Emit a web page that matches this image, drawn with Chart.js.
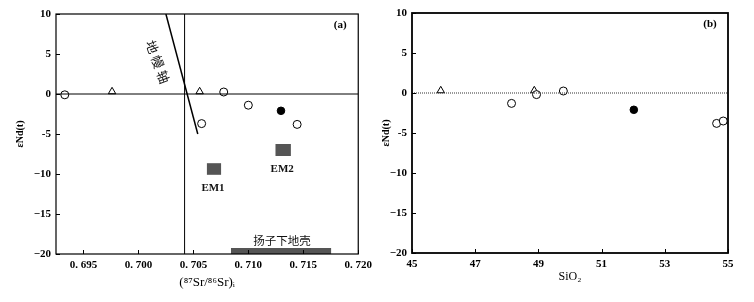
<!DOCTYPE html>
<html>
<head>
<meta charset="utf-8">
<script src="https://cdn.jsdelivr.net/npm/chart.js@4.4.1/dist/chart.umd.min.js"></script>
<style>
  body { margin: 0; background: #fff; width: 754px; height: 302px; position: relative; overflow: hidden; }
  .panel { position: absolute; top: 0; width: 377px; height: 302px; }
</style>
</head>
<body>
<div class="panel" style="left:0"><canvas id="chartA" width="377" height="302"></canvas></div>
<div class="panel" style="left:377px"><canvas id="chartB" width="377" height="302"></canvas></div>
<script>
// --- axis ticks ---
const ndTicks = [-20, -15, -10, -5, 0, 5, 10];
const ndTickLabels = ['−20', '−15', '−10', '-5', '0', '5', '10'];
const srTicks = [0.695, 0.700, 0.705, 0.710, 0.715, 0.720];
const srTickLabels = ['0. 695', '0. 700', '0. 705', '0. 710', '0. 715', '0. 720'];
const siTicks = [45, 47, 49, 51, 53, 55];

// --- panel (a): (87Sr/86Sr)i vs eNd(t) ---
const srOpen = [0.6933, 0.70776, 0.7100, 0.71444, 0.70575];
const ndOpenA = [-0.1, 0.25, -1.4, -3.8, -3.7];
const srTri = [0.6976, 0.70557];
const ndTriA = [0.3, 0.3];
const srFilled = [0.71297];
const ndFilledA = [-2.1];

const mantleSr = [0.7025, 0.7054];
const mantleNd = [10, -5];
const bulkSr = 0.7042;

const boxNames = ['EM1', 'EM2', '扬子下地壳'];
const boxSrMin = [0.70623, 0.71247, 0.70842];
const boxSrMax = [0.70752, 0.71387, 0.71753];
const boxNdMin = [-10.1, -7.75, -20];
const boxNdMax = [-8.65, -6.25, -19.25];

// --- panel (b): SiO2 vs eNd(t) ---
const siOpen = [48.15, 48.94, 49.79, 54.64, 54.85];
const ndOpenB = [-1.3, -0.2, 0.25, -3.8, -3.5];
const siTri = [45.91, 48.87];
const ndTriB = [0.3, 0.3];
const siFilled = [52.02];
const ndFilledB = [-2.1];

const serif = 'Liberation Serif, Times New Roman, serif';
const pts = (xs, ys) => xs.map((v, i) => ({ x: v, y: ys[i] }));

// frame round the plot plus short inward ticks
const frameTicks = {
  id: 'frameTicks',
  afterDraw(chart, args, opts) {
    const { ctx, chartArea: a, scales: { x, y } } = chart;
    ctx.save();
    ctx.strokeStyle = '#000';
    ctx.lineWidth = opts.lineWidth || 1.2;
    ctx.strokeRect(a.left, a.top, a.right - a.left, a.bottom - a.top);
    ctx.lineWidth = 1;
    ctx.beginPath();
    x.ticks.forEach(t => {
      const px = Math.round(x.getPixelForValue(t.value)) + 0.5;
      ctx.moveTo(px, a.bottom); ctx.lineTo(px, a.bottom - 4);
    });
    y.ticks.forEach(t => {
      const py = Math.round(y.getPixelForValue(t.value)) + 0.5;
      ctx.moveTo(a.left, py); ctx.lineTo(a.left + 4, py);
    });
    ctx.stroke();
    if (opts.tag) {
      ctx.fillStyle = '#000';
      ctx.font = 'bold 11px ' + serif;
      ctx.textAlign = 'center';
      ctx.textBaseline = 'middle';
      ctx.fillText(opts.tag, a.right - 18, a.top + 11);
    }
    ctx.restore();
  }
};

// grey source boxes and their names, plus the mantle array label
const sourceBoxes = {
  id: 'sourceBoxes',
  beforeDatasetsDraw(chart) {
    const { ctx, scales: { x, y } } = chart;
    ctx.save();
    ctx.fillStyle = '#555';
    boxNames.forEach((n, i) => {
      const x0 = x.getPixelForValue(boxSrMin[i]), x1 = x.getPixelForValue(boxSrMax[i]);
      const y0 = y.getPixelForValue(boxNdMax[i]), y1 = y.getPixelForValue(boxNdMin[i]);
      ctx.fillRect(x0, y0, x1 - x0, y1 - y0);
    });
    ctx.restore();
  },
  afterDraw(chart) {
    const { ctx, scales: { x, y } } = chart;
    ctx.save();
    ctx.fillStyle = '#111';
    ctx.textAlign = 'center';
    ctx.textBaseline = 'middle';
    boxNames.forEach((n, i) => {
      const cx = (x.getPixelForValue(boxSrMin[i]) + x.getPixelForValue(boxSrMax[i])) / 2;
      if (i < 2) {
        ctx.font = 'bold 11px ' + serif;
        ctx.fillText(n, cx - 1, y.getPixelForValue(boxNdMin[i]) + 13.5);
      } else {
        ctx.font = '11.5px "Noto Sans CJK SC", sans-serif';
        ctx.fillText(n, cx + 1, y.getPixelForValue(boxNdMax[i]) - 7);
      }
    });
    // 地幔轴 along the mantle array
    const t = 0.4;
    const lx = x.getPixelForValue(mantleSr[0] + t * (mantleSr[1] - mantleSr[0])) - 21;
    const ly = y.getPixelForValue(mantleNd[0] + t * (mantleNd[1] - mantleNd[0]));
    ctx.translate(lx, ly);
    ctx.rotate(70 * Math.PI / 180);
    ctx.font = '13px "Noto Sans CJK SC", sans-serif';
    ctx.letterSpacing = '3px';
    ctx.fillText('地幔轴', 1.5, 0);
    ctx.restore();
  }
};

function baseOptions(cfg) {
  return {
    responsive: false,
    animation: false,
    events: [],
    layout: { padding: { left: 0, right: cfg.padRight, top: cfg.padTop, bottom: 0 } },
    plugins: {
      legend: { display: false },
      tooltip: { enabled: false },
      frameTicks: { lineWidth: cfg.frame, tag: cfg.tag }
    },
    scales: {
      x: {
        type: 'linear',
        min: cfg.xMin, max: cfg.xMax,
        afterBuildTicks: s => { s.ticks = cfg.xTicks.map(v => ({ value: v })); },
        afterFit: s => { s.height = cfg.xHeight; },
        grid: { display: false, drawTicks: false },
        border: { display: false },
        ticks: {
          color: '#000', padding: 5, maxRotation: 0, autoSkip: false,
          font: { family: serif, size: 11, weight: 'bold' },
          callback: cfg.xLabel
        },
        title: {
          display: true, text: cfg.xTitle, color: '#000',
          font: { family: serif, size: cfg.xTitleSize, weight: 'normal' },
          padding: { top: 0, bottom: cfg.xTitlePad }
        }
      },
      y: {
        type: 'linear',
        min: -20, max: 10,
        afterBuildTicks: s => { s.ticks = ndTicks.map(v => ({ value: v })); },
        afterFit: s => { s.width = cfg.yWidth; },
        grid: { display: false, drawTicks: false },
        border: { display: false },
        ticks: {
          color: '#000', padding: cfg.yTickPad, autoSkip: false,
          font: { family: serif, size: 11, weight: 'bold' },
          callback: (v, i) => ndTickLabels[i]
        },
        title: {
          display: true, text: 'εNd(t)', color: '#000',
          font: { family: serif, size: 10, weight: 'bold' },
          padding: { top: cfg.yTitlePad, bottom: 0 }
        }
      }
    }
  };
}

const openStyle = { pointStyle: 'circle', pointRadius: 4, backgroundColor: '#fff', borderColor: '#000', borderWidth: 1 };
const triStyle = { pointStyle: 'triangle', pointRadius: 4.3, backgroundColor: '#fff', borderColor: '#000', borderWidth: 1 };
const fillStyle = { pointStyle: 'circle', pointRadius: 3.8, backgroundColor: '#000', borderColor: '#000', borderWidth: 1 };

new Chart(document.getElementById('chartA'), {
  type: 'scatter',
  data: {
    datasets: [
      { data: pts([0.6925, 0.72], [0, 0]), showLine: true, pointRadius: 0, borderColor: '#000', borderWidth: 1 },
      { data: pts([bulkSr, bulkSr], [-20, 10]), showLine: true, pointRadius: 0, borderColor: '#000', borderWidth: 1 },
      { data: pts(mantleSr, mantleNd), showLine: true, pointRadius: 0, borderColor: '#000', borderWidth: 1.5 },
      { data: pts(srOpen, ndOpenA), ...openStyle },
      { data: pts(srTri, ndTriA), ...triStyle },
      { data: pts(srFilled, ndFilledA), ...fillStyle }
    ]
  },
  options: baseOptions({
    padRight: 17, padTop: 14, frame: 1.2, tag: '(a)',
    xMin: 0.6925, xMax: 0.72, xTicks: srTicks, xHeight: 48,
    xLabel: (v, i) => srTickLabels[i],
    xTitle: '(⁸⁷Sr/⁸⁶Sr)ᵢ', xTitleSize: 13, xTitlePad: 12,
    yWidth: 56, yTickPad: 5, yTitlePad: 14
  }),
  plugins: [sourceBoxes, frameTicks]
});

new Chart(document.getElementById('chartB'), {
  type: 'scatter',
  data: {
    datasets: [
      { data: pts([45, 55], [0, 0]), showLine: true, pointRadius: 0, borderColor: '#333', borderWidth: 1, borderDash: [1, 1] },
      { data: pts(siOpen, ndOpenB), ...openStyle },
      { data: pts(siTri, ndTriB), ...triStyle },
      { data: pts(siFilled, ndFilledB), ...fillStyle }
    ]
  },
  options: baseOptions({
    padRight: 26, padTop: 13, frame: 1.8, tag: '(b)',
    xMin: 45, xMax: 55, xTicks: siTicks, xHeight: 49,
    xLabel: v => String(v),
    xTitle: 'SiO₂', xTitleSize: 12, xTitlePad: 18,
    yWidth: 35, yTickPad: 5, yTitlePad: 3
  }),
  plugins: [frameTicks]
});
</script>
</body>
</html>
